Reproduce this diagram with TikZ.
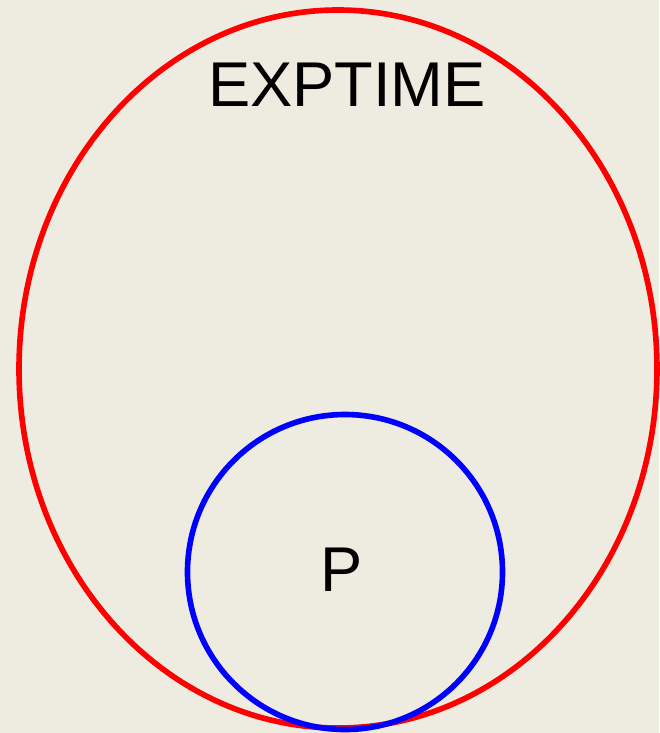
\documentclass[tikz,border=0pt]{standalone}
\usepackage{fontspec}
\setmainfont{Liberation Sans}
\usetikzlibrary{shapes.geometric, positioning}
\definecolor{paper}{HTML}{EEEBE0}

\begin{document}
\begin{tikzpicture}[
      set/.style={ellipse, draw, line width=3.2pt, inner sep=0pt},
      setname/.style={font=\fontsize{36}{40}\selectfont, text=black}
      ]

      % Background
      \fill[paper] (0,0) rectangle (13.18,-14.66);
      \useasboundingbox (0,0) rectangle (13.18,-14.66);

      % Sets
      \node[set, draw=red, minimum width=12.76cm, minimum height=14.36cm] (exptime) at (6.76,-7.38) {};
      \node[set, draw=blue, minimum width=6.3cm, minimum height=6.3cm] (p) at (6.9,-11.44) {};

      % Labels
      \node[setname] (exptimename) at (6.94,-1.7) {EXPTIME};
      \node[setname] (pname) at (6.84,-11.4) {P};
    \end{tikzpicture}
\end{document}
